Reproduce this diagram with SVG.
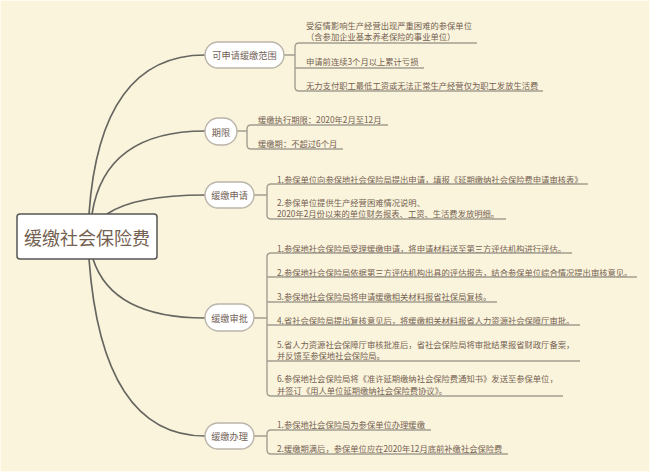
<svg xmlns="http://www.w3.org/2000/svg" width="650" height="472" viewBox="0 0 650 472">
<style>
.bg{fill:#fbf4dc}
.frame{fill:none;stroke:#fffbef;stroke-width:2}
.curve{fill:none;stroke:#666661;stroke-width:1.7}
.conn{fill:none;stroke:#a29e90;stroke-width:1.4}
.ul{stroke:#a29e90;stroke-width:1.4}
.pill{fill:#ffffff;stroke:#bab5aa;stroke-width:1.4}
.root{fill:#ffffff;stroke:#555555;stroke-width:1.5}
.rt{font-family:"Noto Sans CJK SC","Noto Sans",sans-serif;font-size:18px;fill:#755f50;text-anchor:middle;dominant-baseline:central}
.nt{font-family:"Noto Sans CJK SC","Noto Sans",sans-serif;font-size:9.2px;fill:#736256;text-anchor:middle;dominant-baseline:central}
.lt{font-family:"Noto Sans CJK SC","Noto Sans",sans-serif;font-size:8.3px;fill:#736152;dominant-baseline:central}
</style>
<rect class="bg" x="0" y="0" width="650" height="472"/>
<rect class="frame" x="0" y="0" width="650" height="472"/>

<g id="connectors">
  <path class="curve" d="M89,214 Q100,55 205,55"/>
  <path class="curve" d="M92,214 Q105,131 205,131"/>
  <path class="curve" d="M107,214 Q135,195 205,195"/>
  <path class="curve" d="M93,259 Q112,318 205,318"/>
  <path class="curve" d="M89,259 Q102,436 205,436"/>

  <path class="conn" d="M284,55 H295 M295,47 V87 M295,47 Q295,43 299,43 M295,87 Q295,91 299,91"/>
  <path class="conn" d="M237,131 H247 M247,129 V145 M247,129 Q247,125 251,125 M247,145 Q247,149 251,149"/>
  <path class="conn" d="M254,195 H267 M267,188 V215 M267,188 Q267,184 271,184 M267,215 Q267,219 271,219"/>
  <path class="conn" d="M254,318 H267 M267,257 V392 M267,257 Q267,253 271,253 M267,392 Q267,396 271,396"/>
  <path class="conn" d="M254,436 H267 M267,434 V450 M267,434 Q267,430 271,430 M267,450 Q267,454 271,454"/>
</g>

<g id="root">
  <rect class="root" x="17" y="214" width="140" height="45" rx="3"/>
  <text class="rt" x="87" y="237">缓缴社会保险费</text>
</g>

<g id="n-scope">
  <rect class="pill" x="205" y="42" width="79" height="26" rx="13"/>
  <text class="nt" x="244.5" y="55">可申请缓缴范围</text>
</g>
<g id="n-scope-1">
  <text class="lt" x="306" y="24.5">受疫情影响生产经营出现严重困难的参保单位</text>
  <text class="lt" x="306" y="36">（含参加企业基本养老保险的事业单位）</text>
  <line class="ul" x1="299" y1="43" x2="477" y2="43"/>
</g>
<g id="n-scope-2">
  <text class="lt" x="306" y="61">申请前连续3个月以上累计亏损</text>
  <line class="ul" x1="295" y1="68" x2="424" y2="68"/>
</g>
<g id="n-scope-3">
  <text class="lt" x="306" y="85">无力支付职工最低工资或无法正常生产经营仅为职工发放生活费</text>
  <line class="ul" x1="299" y1="91" x2="543" y2="91"/>
</g>

<g id="n-term">
  <rect class="pill" x="205" y="118" width="32" height="27" rx="13.5"/>
  <text class="nt" x="221" y="131.5">期限</text>
</g>
<g id="n-term-1">
  <text class="lt" x="258" y="119">缓缴执行期限：2020年2月至12月</text>
  <line class="ul" x1="251" y1="125" x2="388" y2="125"/>
</g>
<g id="n-term-2">
  <text class="lt" x="258" y="143">缓缴期：不超过6个月</text>
  <line class="ul" x1="251" y1="149" x2="343" y2="149"/>
</g>

<g id="n-apply">
  <rect class="pill" x="205" y="182" width="49" height="26" rx="13"/>
  <text class="nt" x="229.5" y="195">缓缴申请</text>
</g>
<g id="n-apply-1">
  <text class="lt" x="277" y="179">1.参保单位向参保地社会保险局提出申请，填报《延期缴纳社会保险费申请审核表》</text>
  <line class="ul" x1="271" y1="184" x2="588" y2="184"/>
</g>
<g id="n-apply-2">
  <text class="lt" x="277" y="202">2.参保单位提供生产经营困难情况说明、</text>
  <text class="lt" x="277" y="213">2020年2月份以来的单位财务报表、工资、生活费发放明细。</text>
  <line class="ul" x1="271" y1="219" x2="506" y2="219"/>
</g>

<g id="n-approve">
  <rect class="pill" x="205" y="304" width="49" height="27" rx="13.5"/>
  <text class="nt" x="229.5" y="317.5">缓缴审批</text>
</g>
<g id="n-approve-1">
  <text class="lt" x="277" y="248">1.参保地社会保险局受理缓缴申请，将申请材料送至第三方评估机构进行评估。</text>
  <line class="ul" x1="271" y1="253" x2="572" y2="253"/>
</g>
<g id="n-approve-2">
  <text class="lt" x="277" y="272">2.参保地社会保险局依据第三方评估机构出具的评估报告，结合参保单位综合情况提出审核意见。</text>
  <line class="ul" x1="267" y1="277" x2="637" y2="277"/>
</g>
<g id="n-approve-3">
  <text class="lt" x="277" y="296">3.参保地社会保险局将申请缓缴相关材料报省社保局复核。</text>
  <line class="ul" x1="267" y1="302" x2="497" y2="302"/>
</g>
<g id="n-approve-4">
  <text class="lt" x="277" y="320">4.省社会保险局提出复核意见后，将缓缴相关材料报省人力资源社会保障厅审批。</text>
  <line class="ul" x1="267" y1="325" x2="580" y2="325"/>
</g>
<g id="n-approve-5">
  <text class="lt" x="277" y="344">5.省人力资源社会保障厅审核批准后，省社会保险局将审批结果报省财政厅备案，</text>
  <text class="lt" x="277" y="355">并反馈至参保地社会保险局。</text>
  <line class="ul" x1="267" y1="361" x2="580" y2="361"/>
</g>
<g id="n-approve-6">
  <text class="lt" x="277" y="378">6.参保地社会保险局将《准许延期缴纳社会保险费通知书》发送至参保单位，</text>
  <text class="lt" x="277" y="390">并签订《用人单位延期缴纳社会保险费协议》。</text>
  <line class="ul" x1="271" y1="396" x2="563" y2="396"/>
</g>

<g id="n-handle">
  <rect class="pill" x="205" y="423" width="49" height="26" rx="13"/>
  <text class="nt" x="229.5" y="436">缓缴办理</text>
</g>
<g id="n-handle-1">
  <text class="lt" x="277" y="424">1.参保地社会保险局为参保单位办理缓缴</text>
  <line class="ul" x1="271" y1="430" x2="431" y2="430"/>
</g>
<g id="n-handle-2">
  <text class="lt" x="277" y="448">2.缓缴期满后，参保单位应在2020年12月底前补缴社会保险费</text>
  <line class="ul" x1="271" y1="454" x2="508" y2="454"/>
</g>
</svg>
